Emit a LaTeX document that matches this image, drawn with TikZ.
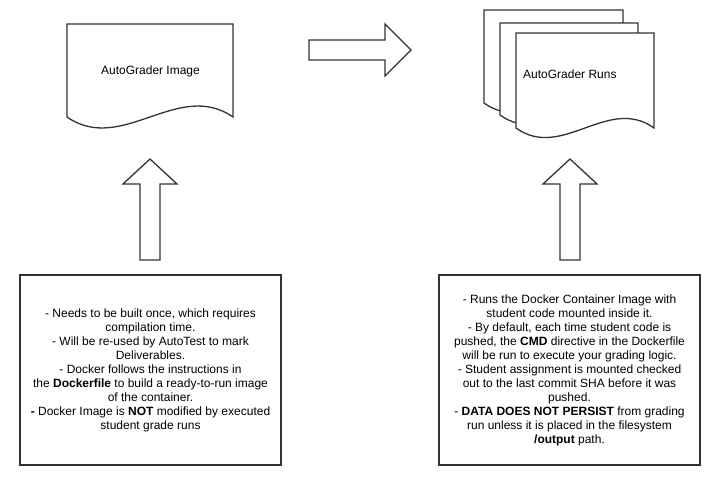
\documentclass[tikz,border=0pt]{standalone}
\usepackage{fontspec}
\setmainfont{Liberation Sans}
\definecolor{edge}{HTML}{333333}
\begin{document}
\begin{tikzpicture}[x=1pt,y=-1pt,
  shapeline/.style={draw=edge,line width=1.3pt,fill=white,line join=miter},
  boxtext/.style={align=center,font=\fontsize{12}{14}\selectfont,inner sep=0pt},
  label/.style={font=\fontsize{12}{14}\selectfont,inner sep=0pt}]
\useasboundingbox (0,0) rectangle (726,485);
% left document
\draw[shapeline] (67,117) -- (67,24) -- (233,24) -- (233,117)
  .. controls (178,79) and (122,155) .. (67,117) -- cycle;
\node[label] (img) at (150.5,71) {AutoGrader Image};
% multi document
\draw[shapeline] (484,103) -- (484,10) -- (623,10) -- (623,103)
  .. controls (577,70) and (530,136) .. (484,103) -- cycle;
\draw[shapeline] (500,115) -- (500,23) -- (638,23) -- (638,115)
  .. controls (592,82) and (546,148) .. (500,115) -- cycle;
\draw[shapeline] (516,128) -- (516,33) -- (654,33) -- (654,128)
  .. controls (608,95) and (562,161) .. (516,128) -- cycle;
\node[label,anchor=west] (runs) at (523,74) {AutoGrader Runs};
% right block arrow
\draw[shapeline] (309,40) -- (385,40) -- (385,24) -- (411,50) -- (385,76)
  -- (385,60) -- (309,60) -- cycle;
% up block arrows
\draw[shapeline] (140,260) -- (140,184) -- (123,184) -- (150,159) -- (177,184)
  -- (160,184) -- (160,260) -- cycle;
\draw[shapeline] (560,260) -- (560,184) -- (543,184) -- (570,159) -- (597,184)
  -- (580,184) -- (580,260) -- cycle;
% text boxes
\draw[shapeline] (20,275) rectangle (281,465);
\node[boxtext] (lefttext) at (150.5,370.5) {- Needs to be built once, which requires\\
compilation time.\\
- Will be re-used by AutoTest to mark\\
Deliverables.\\
- Docker follows the instructions in\\
the \textbf{Dockerfile} to build a ready-to-run image\\
of the container.\\
\textbf{-} Docker Image is \textbf{NOT} modified by executed\\
student grade runs};
\draw[shapeline] (439,275) rectangle (700,465);
\node[boxtext] (righttext) at (569.5,370) {- Runs the Docker Container Image with\\
student code mounted inside it.\\
- By default, each time student code is\\
pushed, the \textbf{CMD} directive in the Dockerfile\\
will be run to execute your grading logic.\\
- Student assignment is mounted checked\\
out to the last commit SHA before it was\\
pushed.\\
- \textbf{DATA DOES NOT PERSIST} from grading\\
run unless it is placed in the filesystem\\
\textbf{/output} path.};
\end{tikzpicture}
\end{document}
